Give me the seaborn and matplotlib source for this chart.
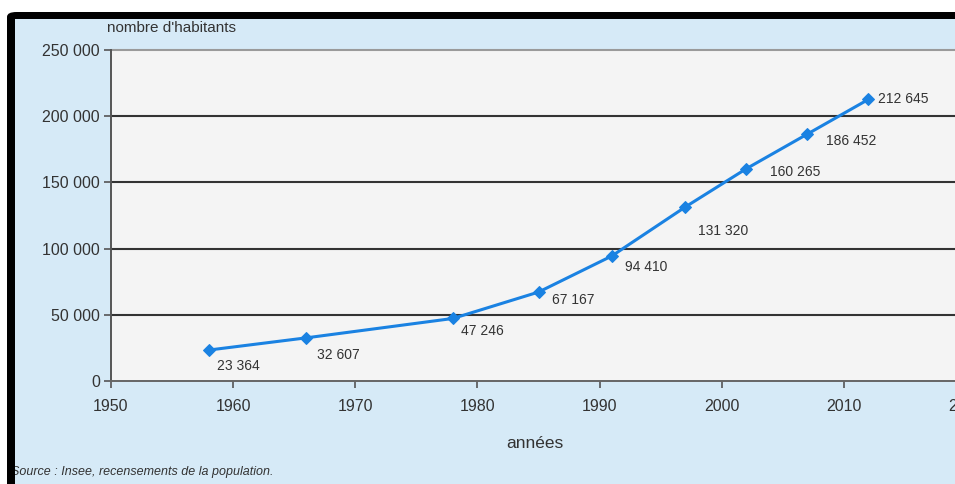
import pandas as pd
import matplotlib.pyplot as plt
import matplotlib.patches as mpatches
import seaborn as sns

# census data
years = [1958, 1966, 1978, 1985, 1991, 1997, 2002, 2007, 2012]
habitants = [23364, 32607, 47246, 67167, 94410, 131320, 160265, 186452, 212645]
point_labels = ["23 364", "32 607", "47 246", "67 167", "94 410",
                "131 320", "160 265", "186 452", "212 645"]
# label offsets in pixels (dx right, dy up)
label_offsets = [(8, -16), (11, -17), (8, -13), (13, -8), (13, -11),
                 (13, -24), (24, -3), (19, -7), (10, 0)]

x_ticks = [1950, 1960, 1970, 1980, 1990, 2000, 2010, 2020]
y_ticks = [0, 50000, 100000, 150000, 200000, 250000]
y_tick_labels = ["0", "50 000", "100 000", "150 000", "200 000", "250 000"]

df = pd.DataFrame({"année": years, "habitants": habitants})

sns.set_theme(style="white")
plt.rcParams['font.family'] = ['Liberation Sans', 'DejaVu Sans']

W, H = 955, 484
fig = plt.figure(figsize=(W / 100, H / 100), dpi=100, facecolor="white")

def px(x, y):
    # pixel coords (from top-left) -> figure fraction
    return x / W, 1 - y / H

# black frame and blue background
fig.patches.append(mpatches.FancyBboxPatch(px(7, 484), (W + 20) / W, (484 - 12) / H,
                                           boxstyle="round,pad=0,rounding_size=0.01",
                                           transform=fig.transFigure, facecolor="black",
                                           edgecolor="none", zorder=-2))
fig.patches.append(mpatches.Rectangle(px(15, 484), (W - 15 + 5) / W, (484 - 19) / H,
                                      transform=fig.transFigure, facecolor="#d6eaf7",
                                      edgecolor="none", zorder=-1))

ax = fig.add_axes([111 / W, (H - 381) / H, (966 - 111) / W, (381 - 50) / H])
ax.set_zorder(3)
ax.set_facecolor("#f4f4f4")

sns.lineplot(data=df, x="année", y="habitants", ax=ax, color="#1a82e2",
             linewidth=2.2, marker="D", markersize=6.5, markeredgecolor="#1a82e2",
             zorder=5, clip_on=False)

for xv, yv, lab, (dx, dy) in zip(years, habitants, point_labels, label_offsets):
    ax.annotate(lab, (xv, yv), xytext=(dx * 0.72, dy * 0.72), textcoords="offset points",
                ha="left", va="center", fontsize=10, color="#333333", zorder=6)

ax.set_xlim(1950, 2020)
ax.set_ylim(0, 250000)
ax.set_xticks(x_ticks)
ax.set_xticklabels([str(v) for v in x_ticks])
ax.set_yticks(y_ticks)
ax.set_yticklabels(y_tick_labels)

for yv in y_ticks[1:-1]:
    ax.axhline(yv, color="#333333", linewidth=1.5, zorder=2)
ax.axhline(250000, color="#9a9a9a", linewidth=1.5, zorder=2, clip_on=False)

for side in ["top", "right"]:
    ax.spines[side].set_visible(False)
ax.spines["left"].set_color("#555555")
ax.spines["left"].set_linewidth(1.4)
ax.spines["bottom"].set_color("#666666")
ax.spines["bottom"].set_linewidth(1.4)

ax.tick_params(axis="both", direction="out", length=5, width=1.2, color="#555555",
               labelsize=11.5, labelcolor="#333333", left=True, bottom=True)
ax.tick_params(axis="y", pad=3)
ax.tick_params(axis="x", pad=8)
ax.set_xlabel("")
ax.set_ylabel("")

fig.text(*px(107, 28), "nombre d'habitants", ha="left", va="center",
         fontsize=11, color="#333333", zorder=2)
fig.text(*px(535, 443), "années", ha="center", va="center",
         fontsize=12.5, color="#333333", zorder=2)
fig.text(*px(11, 472), "Source : Insee, recensements de la population.", ha="left",
         va="center", fontsize=9, style="italic", color="#333333", zorder=2)

# left black strip drawn over the source text start
fig.patches.append(mpatches.Rectangle(px(7, 484), 8 / W, (484 - 19) / H,
                                      transform=fig.transFigure, facecolor="black",
                                      edgecolor="none", zorder=10))

fig.savefig("out.png", dpi=100, facecolor="white")
